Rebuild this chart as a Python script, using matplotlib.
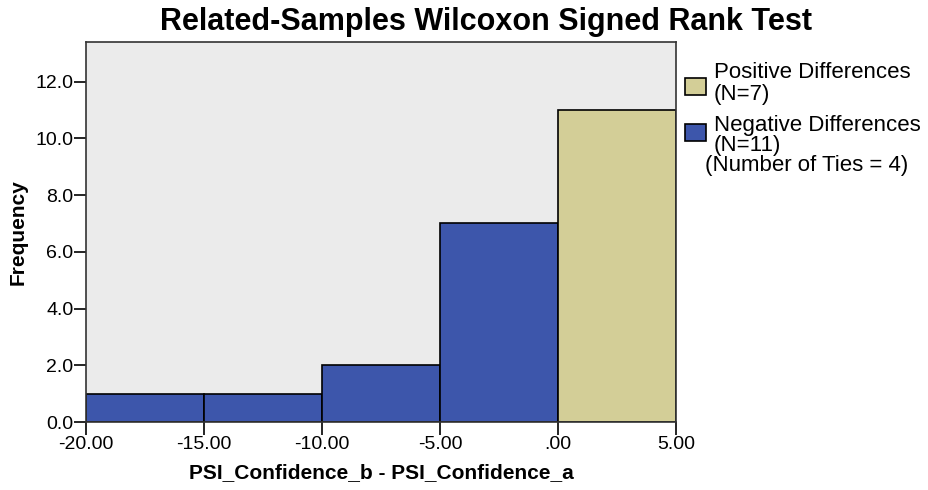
import matplotlib
matplotlib.use("Agg")
import matplotlib.pyplot as plt
from matplotlib.patches import Rectangle
from matplotlib.ticker import FuncFormatter

plt.rcParams['font.family'] = ['Liberation Sans', 'DejaVu Sans']

bin_edges = [-20, -15, -10, -5, 0, 5]
neg_counts = [1, 1, 2, 7]
pos_counts = [11]
x_ticks = [-20, -15, -10, -5, 0, 5]
y_ticks = [0, 2, 4, 6, 8, 10, 12]

blue = '#3d56ab'
tan = '#d3ce97'
bg = '#ebebeb'

W, H = 929, 490
fig = plt.figure(figsize=(W/100, H/100), dpi=100)
ax = fig.add_axes([86/W, 1-422/H, (676-86)/W, (422-42)/H])
ax.set_facecolor(bg)

lefts = bin_edges[:-1]
widths = [bin_edges[i+1]-bin_edges[i] for i in range(len(bin_edges)-1)]
ax.bar(lefts[:4], neg_counts, width=widths[:4], align='edge', color=blue, edgecolor='black', linewidth=1.2)
ax.bar(lefts[4:], pos_counts, width=widths[4:], align='edge', color=tan, edgecolor='black', linewidth=1.2)

ax.set_xlim(-20, 5)
ax.set_ylim(0, 13.4)
ax.set_xticks(x_ticks)
ax.set_yticks(y_ticks)

def xfmt(v, p):
    s = f"{v:.2f}"
    if s in ('0.00', '-0.00'):
        s = '.00'
    return s
ax.xaxis.set_major_formatter(FuncFormatter(xfmt))
ax.yaxis.set_major_formatter(FuncFormatter(lambda v, p: f"{v:.1f}"))
ax.tick_params(axis='both', direction='out', length=9, width=1.2, labelsize=14, colors='black', pad=1)
ax.tick_params(axis='y', pad=0)
for s in ax.spines.values():
    s.set_linewidth(1.2)
    s.set_color('#333333')

ax.set_xlabel('PSI_Confidence_b - PSI_Confidence_a', fontsize=15, fontweight='bold')
ax.set_ylabel('Frequency', fontsize=15, fontweight='bold')
ax.xaxis.set_label_coords(0.5, (422-473)/380)
ax.yaxis.set_label_coords((18-86)/590, 0.5)
ax.xaxis.label.set_va('center')
ax.yaxis.label.set_va('center')

fig.text(486/W, 1-22/H, 'Related-Samples Wilcoxon Signed Rank Test', fontsize=22, fontweight='bold', ha='center', va='center')

# legend
for (y0, col) in [(78, tan), (124, blue)]:
    fig.patches.append(Rectangle((685/W, 1-(y0+17)/H), 21/W, 17/H, transform=fig.transFigure,
                                 facecolor=col, edgecolor='black', linewidth=1.2))
legend_lines = [
    (714, 78, 'Positive Differences'),
    (714, 100, '(N=7)'),
    (714, 131, 'Negative Differences'),
    (714, 151, '(N=11)'),
    (705, 171, '(Number of Ties = 4)'),
]
for x, y, t in legend_lines:
    fig.text(x/W, 1-y/H, t, fontsize=16, ha='left', va='baseline')

fig.savefig('out.png', dpi=100, facecolor='white')
